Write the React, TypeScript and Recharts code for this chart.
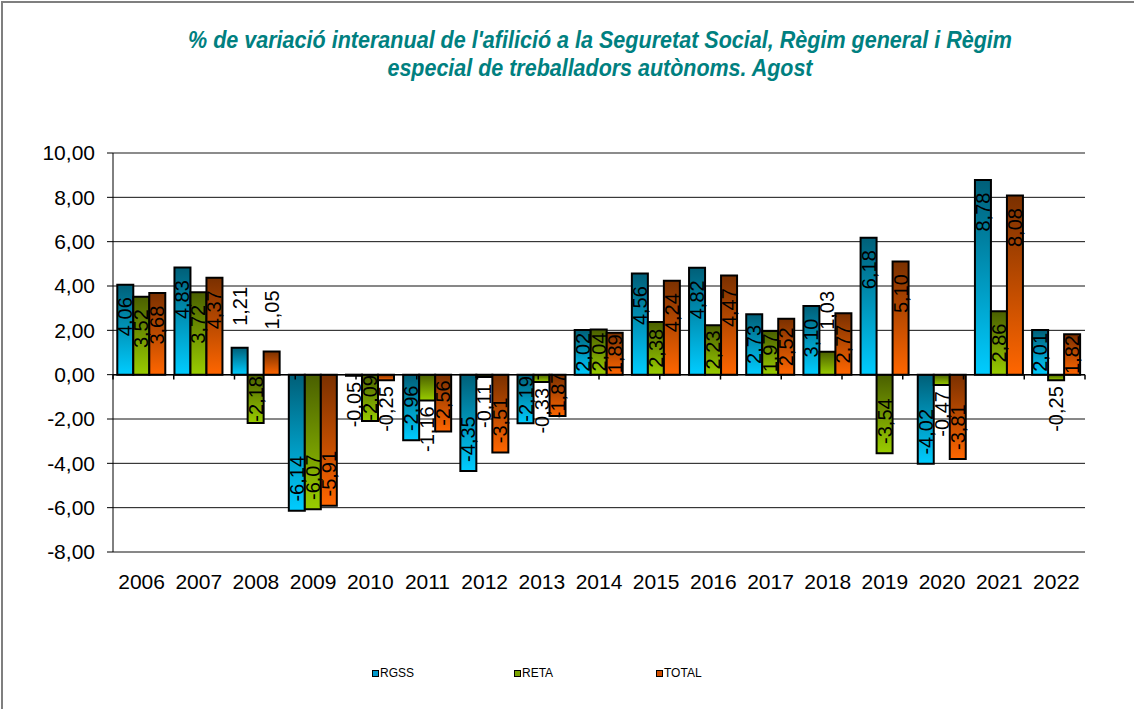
import React from 'react'
import {
  BarChart,
  Bar,
  XAxis,
  YAxis,
  CartesianGrid,
  ReferenceLine,
  LabelList,
} from 'recharts'

const years = ['2006', '2007', '2008', '2009', '2010', '2011', '2012', '2013', '2014', '2015', '2016', '2017', '2018', '2019', '2020', '2021', '2022']
const rgss = [4.06, 4.83, 1.21, -6.14, -0.05, -2.96, -4.35, -2.19, 2.02, 4.56, 4.82, 2.73, 3.1, 6.18, -4.02, 8.78, 2.01]
const reta = [3.52, 3.72, -2.18, -6.07, -2.09, -1.16, -0.11, -0.33, 2.04, 2.38, 2.23, 1.97, 1.03, -3.54, -0.47, 2.86, -0.25]
const total = [3.68, 4.37, 1.05, -5.91, -0.25, -2.56, -3.51, -1.87, 1.89, 4.24, 4.47, 2.52, 2.77, 5.1, -3.81, 8.08, 1.82]
const yTicks = [-8, -6, -4, -2, 0, 2, 4, 6, 8, 10]
const seriesNames = ['RGSS', 'RETA', 'TOTAL']

const titleLines = [
  "% de variació interanual de l'afilició a la Seguretat Social, Règim general i Règim",
  'especial de treballadors autònoms. Agost',
]

const colors: Record<string, { dark: string; light: string; mid: string }> = {
  RGSS: { dark: '#005f78', light: '#00ccff', mid: '#0099cc' },
  RETA: { dark: '#4a5f00', light: '#99cc00', mid: '#7aa300' },
  TOTAL: { dark: '#7a3000', light: '#ff6600', mid: '#d24f00' },
}

const data = years.map((year, i) => ({ year, RGSS: rgss[i], RETA: reta[i], TOTAL: total[i] }))

const FONT = '"Liberation Sans", Arial, sans-serif'
const fmt = (v: number) => v.toFixed(2).replace('.', ',')

function textLen(s: string, size: number) {
  let w = 0
  for (const c of s) {
    if (c === ',') w += 0.278
    else if (c === '-') w += 0.333
    else w += 0.556
  }
  return w * size
}

function BarLabel(props: any) {
  const { x, y, width, height, value } = props
  const v = Number(value)
  const top = Math.min(y, y + height)
  const h = Math.abs(height)
  const cx = x + width / 2
  const txt = fmt(v)
  const size = 20
  const len = textLen(txt, size)
  let cy
  if (h < 38) {
    cy = v >= 0 ? top - 22 - len / 2 : top + h + 6 + len / 2
  } else {
    const off = Math.min(h / 2, 32)
    cy = v >= 0 ? top + off : top + h - off
  }
  return (
    <text
      x={cx}
      y={cy}
      transform={`rotate(-90, ${cx}, ${cy})`}
      textAnchor="middle"
      dominantBaseline="central"
      fontSize={size}
      fontFamily={FONT}
      fill="#000"
    >
      {txt}
    </text>
  )
}

const boundaries = Array.from({ length: years.length + 1 }, (_, i) => i)

export default function App() {
  return (
    <div style={{ position: 'relative', width: 1134, height: 709, overflow: 'hidden', background: '#fff' }}>
      <style>{'body{margin:0}'}</style>
      <div
        style={{
          position: 'absolute',
          left: 1,
          top: 1,
          width: 1200,
          height: 800,
          borderLeft: '2px solid #7f7f7f',
          borderTop: '2px solid #7f7f7f',
        }}
      />
      <svg width={1134} height={100} style={{ position: 'absolute', left: 0, top: 0 }}>
        {titleLines.map((line, i) => (
          <text
            key={i}
            x={600}
            y={48 + i * 28}
            textAnchor="middle"
            fontSize={23}
            fontWeight="bold"
            fontStyle="italic"
            fontFamily={FONT}
            fill="#008080"
            textLength={i === 0 ? 824 : 425}
            lengthAdjust="spacingAndGlyphs"
          >
            {line}
          </text>
        ))}
      </svg>
      <div style={{ position: 'absolute', left: 0, top: 0 }}>
        <BarChart
          width={1134}
          height={709}
          data={data}
          margin={{ top: 153, right: 49, left: 0, bottom: 117 }}
          barCategoryGap="7.5%"
          barGap={0}
        >
          <defs>
            {seriesNames.map((s) => (
              <linearGradient key={s} id={`grad-${s}`} x1="0" y1="0" x2="0" y2="1">
                <stop offset="0%" stopColor={colors[s].dark} />
                <stop offset="100%" stopColor={colors[s].light} />
              </linearGradient>
            ))}
          </defs>
          <CartesianGrid vertical={false} stroke="#111" />
          <XAxis
            dataKey="year"
            axisLine={false}
            tickLine={false}
            tickSize={6}
            tickMargin={16}
            height={40}
            tick={{ fontSize: 21, fill: '#000', fontFamily: FONT }}
            interval={0}
          />
          <XAxis xAxisId="n" type="number" domain={[0, years.length]} allowDataOverflow hide />
          <YAxis
            domain={[-8, 10]}
            ticks={yTicks}
            width={113}
            interval={0}
            tickSize={6}
            tickMargin={12}
            axisLine={{ stroke: '#000' }}
            tickLine={{ stroke: '#000' }}
            tickFormatter={(v: number) => fmt(v)}
            tick={{ fontSize: 21, fill: '#000', fontFamily: FONT }}
          />
          {seriesNames.map((s) => (
            <Bar
              key={s}
              dataKey={s}
              fill={`url(#grad-${s})`}
              stroke="#000"
              strokeWidth={2}
              isAnimationActive={false}
            >
              <LabelList dataKey={s} content={BarLabel} />
            </Bar>
          ))}
          <ReferenceLine y={0} stroke="#000" strokeWidth={1.5} />
          <ReferenceLine y={10} stroke="#8c8c8c" strokeWidth={2} />
          <ReferenceLine xAxisId="n" x={years.length} stroke="#8c8c8c" strokeWidth={2} />
          {boundaries.map((b) => (
            <ReferenceLine
              key={`t${b}`}
              xAxisId="n"
              segment={[{ x: b, y: 0 }, { x: b, y: -0.22 }]}
              stroke="#000"
              strokeWidth={1.5}
            />
          ))}
        </BarChart>
      </div>
      {seriesNames.map((s, i) => (
        <div
          key={s}
          style={{
            position: 'absolute',
            left: 372 + i * 142,
            top: 666,
            display: 'flex',
            alignItems: 'center',
            fontFamily: FONT,
            fontSize: 12,
            color: '#000',
          }}
        >
          <span
            style={{
              display: 'inline-block',
              width: 5,
              height: 5,
              border: '1.5px solid #000',
              background: colors[s].mid,
              marginRight: 1,
            }}
          />
          {s}
        </div>
      ))}
    </div>
  )
}
